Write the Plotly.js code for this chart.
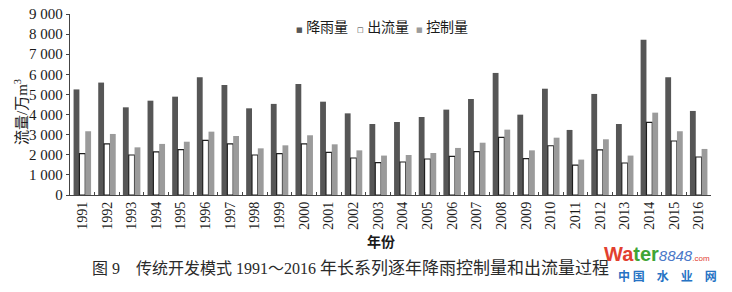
<!DOCTYPE html>
<html>
<head>
<meta charset="utf-8">
<script src="https://cdn.plot.ly/plotly-3.0.1.min.js"></script>
<style>html,body{margin:0;padding:0;background:#fff;}#chart{width:732px;height:292px;}</style>
</head>
<body>
<div id="chart"></div>
<script>
const years = ['1991','1992','1993','1994','1995','1996','1997','1998','1999','2000','2001','2002','2003','2004','2005','2006','2007','2008','2009','2010','2011','2012','2013','2014','2015','2016'];
const rainfall = [5250,5590,4360,4690,4890,5855,5470,4310,4530,5520,4640,4060,3530,3630,3880,4245,4775,6070,3995,5285,3235,5025,3530,7720,5855,4180];
const outflow  = [2055,2540,1990,2140,2255,2720,2540,1990,2055,2540,2120,1840,1610,1640,1790,1925,2155,2870,1805,2450,1490,2240,1590,3615,2685,1890];
const control  = [3170,3035,2370,2540,2650,3150,2935,2320,2470,2970,2520,2220,1960,1990,2090,2340,2600,3250,2220,2850,1760,2770,1960,4095,3170,2290];
const seriesNames = ['降雨量','出流量','控制量'];
const yTicks = [0,1000,2000,3000,4000,5000,6000,7000,8000,9000];
const xTitle = '年份';
const yTitle = '流量/万m<sup>3</sup>';
const captionHead = '图 9　传统开发模式 1991～2016 ';
const captionTail = '年长系列逐年降雨控制量和出流量过程';

const serif = 'Liberation Serif, Times New Roman, Noto Sans CJK SC, serif';
const fills = ['#565656', '#ffffff', '#9b9b9b'];
const lines = ['#565656', '#1e1e1e', '#9b9b9b'];
const series = [rainfall, outflow, control];

const traces = series.map((vals, i) => ({
  type: 'bar',
  name: seriesNames[i],
  x: years,
  y: vals,
  marker: {color: fills[i], line: {color: lines[i], width: i === 1 ? 1.2 : 0}},
  showlegend: false,
  hoverinfo: 'x+y+name'
}));

// plot area geometry (pixels) used to place text annotations
const L = 70, R = 21, T = 14, B = 97, W = 732, H = 292;
const pw = W - L - R, ph = H - T - B;
const px = v => (v - L) / pw;
const py = v => (H - B - v) / ph;

const annotations = [];
// legend (built from series names and colours)
const legendX = [294, 355, 414];
const marks = ['■', '□', '■'];
const markColors = ['#565656', '#333333', '#9b9b9b'];
seriesNames.forEach((n, i) => {
  annotations.push({
    xref: 'paper', yref: 'paper', x: px(legendX[i]), y: py(27.5),
    xanchor: 'left', yanchor: 'middle', showarrow: false,
    text: '<span style="font-family:DejaVu Sans;font-size:7px;fill:' + markColors[i] + '">' + marks[i] + '</span> ' + n,
    font: {family: serif, size: 14, color: '#1a1a1a'}
  });
});
// axis titles
annotations.push({
  xref: 'paper', yref: 'paper', x: px(21), y: py(112), textangle: -90,
  xanchor: 'center', yanchor: 'middle', showarrow: false, text: yTitle,
  font: {family: serif, size: 15, color: '#1a1a1a'}
});
annotations.push({
  xref: 'paper', yref: 'paper', x: px(381), y: py(242),
  xanchor: 'center', yanchor: 'middle', showarrow: false, text: '<b>' + xTitle + '</b>',
  font: {family: serif, size: 14, color: '#1a1a1a'}
});
// caption
annotations.push({
  xref: 'paper', yref: 'paper', x: px(90), y: py(268),
  xanchor: 'left', yanchor: 'middle', showarrow: false,
  text: captionHead + '<span style="font-size:17px">' + captionTail + '</span>',
  font: {family: serif, size: 16, color: '#2a2a2a'}
});
// watermark
annotations.push({
  xref: 'paper', yref: 'paper', x: px(602), y: py(254),
  xanchor: 'left', yanchor: 'middle', showarrow: false,
  text: '<b><span style="fill:#e2402f">Wa</span><span style="fill:#3fa535">ter</span></b><i><span style="fill:#4a78c8;font-size:15px">8848</span></i><span style="fill:#e2402f;font-size:8px">.com</span>',
  font: {family: 'Liberation Sans, Arial, sans-serif', size: 20, color: '#e2402f'}
});
annotations.push({
  xref: 'paper', yref: 'paper', x: px(616), y: py(275),
  xanchor: 'left', yanchor: 'middle', showarrow: false,
  text: '<b>中 国　水　业　网</b>',
  font: {family: 'Noto Sans CJK SC, sans-serif', size: 12, color: '#2673c4'}
});

const layout = {
  width: W, height: H,
  margin: {l: L, r: R, t: T, b: B, pad: 0},
  paper_bgcolor: '#ffffff', plot_bgcolor: '#ffffff',
  separators: '. ',
  barmode: 'group', bargap: 0.29, bargroupgap: 0,
  showlegend: false,
  xaxis: {
    type: 'category', tickangle: -90,
    tickfont: {family: serif, size: 14, color: '#1a1a1a'},
    showline: true, linecolor: '#444', linewidth: 1.2,
    ticks: 'inside', tickson: 'boundaries', ticklen: 3, tickcolor: '#444',
    showgrid: false, zeroline: false, automargin: false
  },
  yaxis: {
    range: [0, 9000], tickvals: yTicks, tickformat: ',d',
    tickfont: {family: serif, size: 15, color: '#1a1a1a'},
    showline: true, linecolor: '#444', linewidth: 1.2,
    ticks: 'outside', ticklen: 3, tickcolor: '#444',
    showgrid: false, zeroline: false, automargin: false
  },
  annotations: annotations,
  font: {family: serif, color: '#1a1a1a'}
};

Plotly.newPlot('chart', traces, layout, {displayModeBar: false, staticPlot: true});
</script>
</body>
</html>
